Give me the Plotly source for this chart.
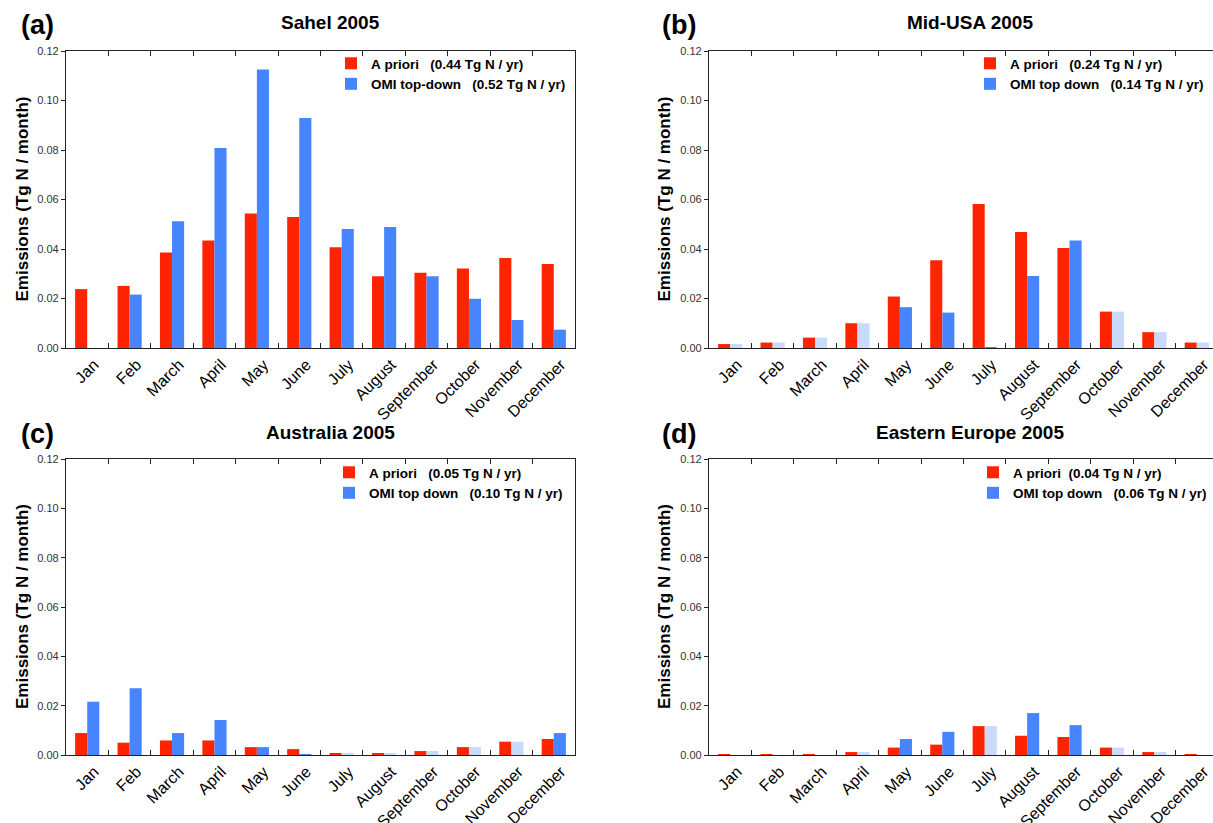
import plotly.graph_objects as go

months = ["Jan", "Feb", "March", "April", "May", "June", "July", "August",
          "September", "October", "November", "December"]

panel_titles = ["Sahel 2005", "Mid-USA 2005", "Australia 2005", "Eastern Europe 2005"]
panel_letters = ["(a)", "(b)", "(c)", "(d)"]

prior_names = ["A priori   (0.44 Tg N / yr)", "A priori   (0.24 Tg N / yr)",
               "A priori   (0.05 Tg N / yr)", "A priori  (0.04 Tg N / yr)"]
omi_names = ["OMI top-down   (0.52 Tg N / yr)", "OMI top down   (0.14 Tg N / yr)",
             "OMI top down   (0.10 Tg N / yr)", "OMI top down   (0.06 Tg N / yr)"]

# Sahel
sahel_prior = [0.0238, 0.0251, 0.0386, 0.0434, 0.0543, 0.0529, 0.0407, 0.0290, 0.0304, 0.0321, 0.0364, 0.0339]
sahel_omi = [0.0, 0.0216, 0.0512, 0.0808, 0.1125, 0.0929, 0.0481, 0.0489, 0.0290, 0.0199, 0.0113, 0.0074]
sahel_filled = [False] * 12

# Mid-USA
usa_prior = [0.0016, 0.0022, 0.0042, 0.0100, 0.0208, 0.0355, 0.0582, 0.0469, 0.0404, 0.0147, 0.0064, 0.0022]
usa_omi = [0.0016, 0.0022, 0.0042, 0.0100, 0.0165, 0.0143, 0.0002, 0.0291, 0.0434, 0.0147, 0.0064, 0.0022]
usa_filled = [True, True, True, True, False, False, False, False, False, True, True, True]

# Australia
aus_prior = [0.0089, 0.0050, 0.0059, 0.0059, 0.0032, 0.0024, 0.0008, 0.0008, 0.0016, 0.0032, 0.0054, 0.0065]
aus_omi = [0.0216, 0.0271, 0.0089, 0.0142, 0.0032, 0.0004, 0.0008, 0.0008, 0.0016, 0.0032, 0.0054, 0.0089]
aus_filled = [False, False, False, False, False, False, True, True, True, True, True, False]

# Eastern Europe
eeu_prior = [0.0004, 0.0004, 0.0004, 0.0012, 0.0030, 0.0042, 0.0117, 0.0078, 0.0073, 0.0030, 0.0012, 0.0004]
eeu_omi = [0.0, 0.0, 0.0, 0.0012, 0.0065, 0.0094, 0.0117, 0.0170, 0.0121, 0.0030, 0.0012, 0.0]
eeu_filled = [False, False, False, True, False, False, True, False, False, True, True, False]

y_ticks = [0.0, 0.02, 0.04, 0.06, 0.08, 0.10, 0.12]
y_tick_labels = ["0.00", "0.02", "0.04", "0.06", "0.08", "0.10", "0.12"]
y_title = "Emissions (Tg N / month)"

priors = [sahel_prior, usa_prior, aus_prior, eeu_prior]
omis = [sahel_omi, usa_omi, aus_omi, eeu_omi]
filleds = [sahel_filled, usa_filled, aus_filled, eeu_filled]

RED = "#ff2400"
BLUE = "#4785ff"
LIGHT = "#c9dafb"
AXC = "#222222"

W, H = 1213, 823
# pixel geometry of panels: (left, right, top, bottom)
boxes = [(66, 575, 51, 348), (709, 1213, 51, 348), (66, 575, 459, 755), (709, 1213, 459, 755)]
cat_px = (575 - 66) / 12.0
title_cx = [330, 970, 330, 970]
title_y = [22, 22, 432, 432]
letter_x = [37, 679, 37, 679]
letter_y = [25, 25, 434, 434]
ytitle_x = [22, 664, 22, 664]
legend_xy = [(331, 48), (970, 48), (329, 457), (973, 457)]

fig = go.Figure()

def s(v):
    return "<b>" + v.replace(" ", "\u00a0") + "</b>"

for i in range(4):
    ax = "" if i == 0 else str(i + 1)
    lg = "legend" if i == 0 else "legend" + str(i + 1)
    fig.add_trace(go.Bar(x=months, y=priors[i], name=s(prior_names[i]), marker_color=RED,
                         marker_line_width=0, offsetgroup="p", xaxis="x" + ax, yaxis="y" + ax,
                         legend=lg))
    blue_vals = [v if not f else None for v, f in zip(omis[i], filleds[i])]
    light_vals = [v if f else None for v, f in zip(omis[i], filleds[i])]
    fig.add_trace(go.Bar(x=months, y=blue_vals, name=s(omi_names[i]), marker_color=BLUE,
                         marker_line_width=0, offsetgroup="o", xaxis="x" + ax, yaxis="y" + ax,
                         legend=lg))
    fig.add_trace(go.Bar(x=months, y=light_vals, name="filled", marker_color=LIGHT,
                         marker_line_width=0, offsetgroup="o", xaxis="x" + ax, yaxis="y" + ax,
                         showlegend=False, legend=lg))

layout = dict(
    width=W, height=H, margin=dict(l=0, r=0, t=0, b=0, autoexpand=False),
    paper_bgcolor="white", plot_bgcolor="white",
    barmode="group", bargap=0.43, bargroupgap=0.0,
    font=dict(family="Liberation Sans, Arial, sans-serif", color="black"),
    annotations=[], showlegend=True,
)

for i in range(4):
    l, r, t, b = boxes[i]
    ax = "" if i == 0 else str(i + 1)
    xdom = [l / W, r / W]
    ydom = [1 - b / H, 1 - t / H]
    xmax = -0.5 + (r - l) / cat_px
    layout["xaxis" + ax] = dict(
        domain=xdom, anchor="y" + ax, type="category", range=[-0.5, xmax],
        tickson="boundaries", ticks="inside", ticklen=5, tickcolor=AXC, tickwidth=1,
        showline=True, linecolor=AXC, linewidth=1.3, mirror="ticks", automargin=False,
        tickangle=-45, tickfont=dict(size=16, color="black"), showgrid=False, zeroline=False,
        ticklabelshift=7, fixedrange=True,
    )
    layout["yaxis" + ax] = dict(
        domain=ydom, anchor="x" + ax, range=[0, 0.12], tickvals=y_ticks, ticktext=y_tick_labels,
        ticks="outside", ticklen=4, tickcolor=AXC, tickwidth=1, automargin=False,
        showline=True, linecolor=AXC, linewidth=1.3, mirror=(i in (0, 2)),
        tickfont=dict(size=11, color="#333333"), showgrid=False, zeroline=False,
    )
    if i in (0, 2):
        oy = "yaxis" + str(5 + i)
        layout[oy] = dict(
            overlaying="y" + ax, anchor="x" + ax, side="right", range=[0, 0.12],
            tickvals=y_ticks, ticks="inside", ticklen=5, tickcolor=AXC, tickwidth=1,
            showticklabels=False, showline=False, showgrid=False, zeroline=False,
            automargin=False,
        )
    lgkey = "legend" if i == 0 else "legend" + str(i + 1)
    lx, ly = legend_xy[i]
    layout[lgkey] = dict(
        x=lx / W, y=1 - ly / H, xanchor="left", yanchor="top", bgcolor="rgba(0,0,0,0)",
        font=dict(size=13.5, color="black", family="Liberation Sans, Arial, sans-serif"),
        itemwidth=30, tracegroupgap=0, traceorder="normal",
    )
    layout["annotations"] += [
        dict(text="<b>" + panel_titles[i] + "</b>", x=title_cx[i] / W, y=1 - title_y[i] / H,
             xref="paper", yref="paper", showarrow=False, xanchor="center", yanchor="middle",
             font=dict(size=19, color="black")),
        dict(text="<b>" + panel_letters[i] + "</b>", x=letter_x[i] / W, y=1 - letter_y[i] / H,
             xref="paper", yref="paper", showarrow=False, xanchor="center", yanchor="middle",
             font=dict(size=27, color="black")),
        dict(text="<b>" + y_title + "</b>", x=ytitle_x[i] / W, y=1 - ((t + b) / 2) / H,
             xref="paper", yref="paper", showarrow=False, xanchor="center", yanchor="middle",
             textangle=-90, font=dict(size=17, color="black")),
    ]

fig.update_layout(**layout)
fig.write_html("out.html", config={"displayModeBar": False},
               post_script="document.body.style.margin='0px';document.body.style.overflow='hidden';")
